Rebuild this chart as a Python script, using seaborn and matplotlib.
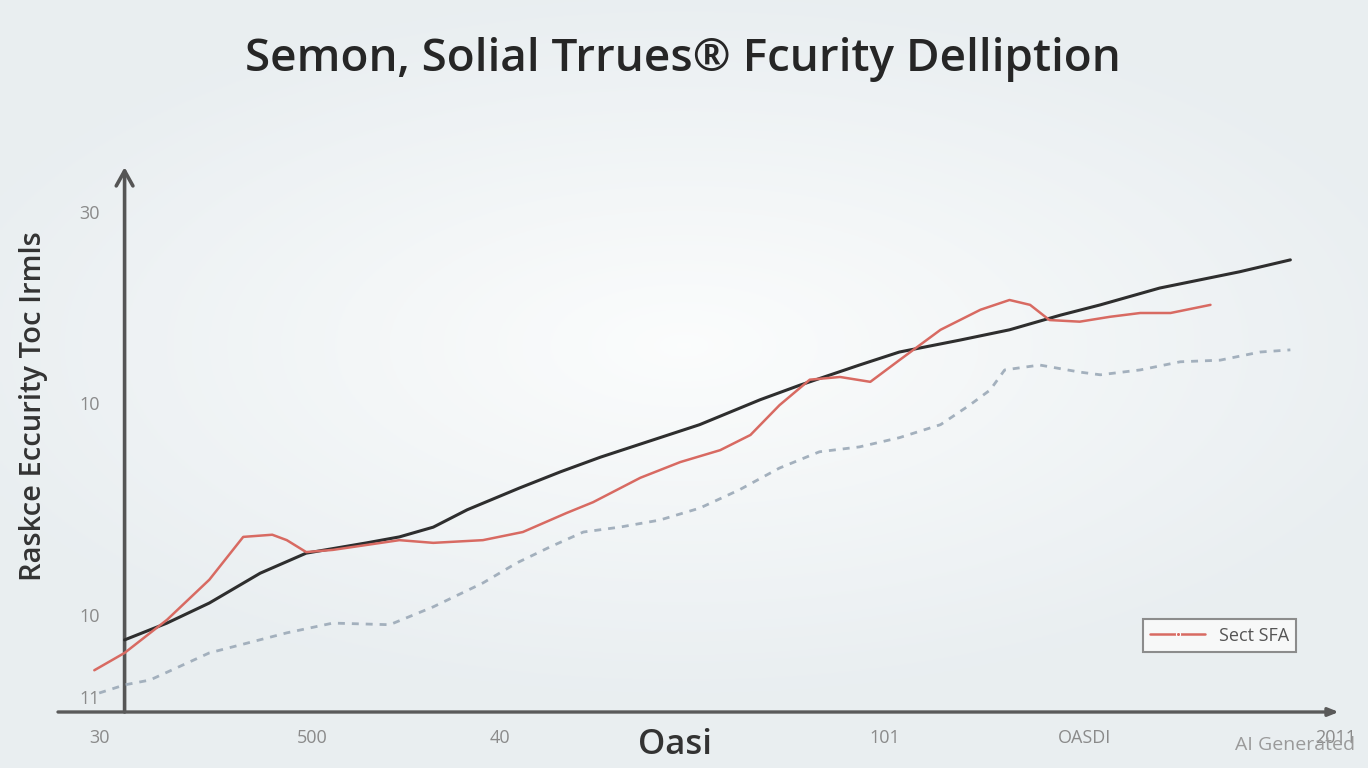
import numpy as np
import matplotlib
matplotlib.use("Agg")
import matplotlib.pyplot as plt
import seaborn as sns

# series values (x in chart units, y in chart units)
black_x = [0, 3.5, 7.0, 11.2, 15.0, 20.0, 22.7, 25.5, 28.3, 32.6, 36.0, 39.3, 47.5, 52.5,
           55.8, 60.7, 64.0, 69.0, 73.1, 77.3, 80.6, 85.5, 88.8, 92.1, 96.3]
black_y = [13.3, 16.4, 20.1, 25.6, 29.3, 31.2, 32.3, 34.1, 37.3, 41.3, 44.3, 47.0, 53.0, 57.6,
           60.3, 64.0, 66.4, 68.6, 70.5, 73.2, 75.1, 78.2, 79.7, 81.2, 83.4]

red_x = [-2.5, 0, 3.5, 7.0, 9.8, 12.2, 13.4, 15.0, 17.2, 22.7, 25.5, 29.6, 32.9, 36.5, 38.7,
         42.6, 45.9, 49.2, 51.7, 54.1, 56.6, 59.1, 61.6, 64.0, 67.4, 70.7, 73.1, 74.8, 76.4,
         78.9, 81.4, 83.9, 86.4, 89.7]
red_y = [7.7, 10.9, 17.0, 24.4, 32.3, 32.7, 31.7, 29.5, 29.9, 31.7, 31.2, 31.7, 33.2, 36.7, 38.7,
         43.2, 46.1, 48.3, 51.1, 56.6, 61.3, 61.8, 60.9, 64.9, 70.5, 74.2, 76.0, 75.1, 72.3,
         72.0, 72.9, 73.6, 73.6, 75.1]

dash_x = [-2.1, 0, 2.1, 7.0, 13.4, 17.2, 21.9, 25.5, 29.6, 32.4, 35.1, 37.9, 40.9, 44.2, 47.5,
          50.8, 54.1, 57.4, 60.7, 64.0, 67.4, 69.8, 71.5, 72.7, 75.6, 78.9, 80.6, 83.9, 87.2,
          90.5, 93.8, 96.3]
dash_y = [3.5, 5.0, 5.9, 10.9, 14.6, 16.4, 16.1, 19.4, 23.8, 27.5, 30.4, 33.2, 34.1, 35.4, 37.6,
          41.0, 45.0, 48.0, 48.9, 50.6, 53.0, 56.6, 59.4, 63.1, 64.0, 62.7, 62.2, 63.1, 64.6,
          64.9, 66.4, 66.8]

title = "Semon, Solial Trrues\u00ae Fcurity Delliption"
y_title = "Raskce Eccurity Toc Irmls"
x_title = "Oasi"
legend_label = "Sect SFA"
ytick_pos = [92.3, 57.0, 17.9, 2.8]
ytick_labels = ["30", "10", "10", "11"]
xtick_pos = [-2.1, 15.5, 31.0, 62.8, 79.3, 100.0]
xtick_labels = ["30", "500", "40", "101", "OASDI", "2011"]

sns.set_theme(style="white")
plt.rcParams["font.family"] = ["Open Sans", "DejaVu Sans"]

fig = plt.figure(figsize=(13.68, 7.68), dpi=100)

# soft radial background
bg = fig.add_axes([0, 0, 1, 1], zorder=-10)
gx, gy = np.meshgrid(np.linspace(-1, 1, 400), np.linspace(-1, 1, 300))
r = np.clip(np.sqrt((gx * 0.9) ** 2 + ((gy + 0.1) * 1.1) ** 2), 0, 1)
c_in = np.array([0.985, 0.99, 0.99])
c_out = np.array([0.915, 0.935, 0.945])
img = c_in[None, None, :] * (1 - r[..., None]) + c_out[None, None, :] * r[..., None]
bg.imshow(img, aspect="auto", extent=[0, 1, 0, 1])
bg.axis("off")

W, H = 1368, 768
ax = fig.add_axes([58 / W, (H - 712) / H, (1340 - 58) / W, (712 - 165) / H])
ax.patch.set_alpha(0)

sns.lineplot(x=dash_x, y=dash_y, ax=ax, color="#a3b0bd", linewidth=2.0,
             linestyle=(0, (2.5, 2.5)), zorder=2)
sns.lineplot(x=black_x, y=black_y, ax=ax, color="#2e2e2e", linewidth=2.2, zorder=3)
sns.lineplot(x=red_x, y=red_y, ax=ax, color="#d86a62", linewidth=1.8, zorder=4,
             label=legend_label)

ax.set_xlim(-5.5, 100.4)
ax.set_ylim(0, 100.9)

ax.spines["left"].set_position(("data", 0))
for s in ["top", "right", "bottom", "left"]:
    ax.spines[s].set_visible(False)

# axis arrows
ax.annotate("", xy=(0, 100.5), xytext=(0, 0),
            arrowprops=dict(arrowstyle="->,head_length=0.9,head_width=0.5",
                            color="#555555", lw=2.6, shrinkA=0, shrinkB=0), zorder=1)
ax.annotate("", xy=(100.3, 0), xytext=(-5.5, 0),
            arrowprops=dict(arrowstyle="-|>,head_length=0.5,head_width=0.2",
                            color="#5a5a5a", lw=2.4, shrinkA=0, shrinkB=0), zorder=1)

ax.set_yticks(ytick_pos)
ax.set_yticklabels(ytick_labels, color="#8a8a8a", fontsize=13)
ax.set_xticks(xtick_pos)
ax.set_xticklabels(xtick_labels, color="#8a8a8a", fontsize=13)
ax.tick_params(axis="y", length=0, pad=18)
ax.tick_params(axis="x", length=0, pad=12)

ax.set_ylabel(y_title, fontsize=21, color="#333333", fontweight="semibold")
ax.yaxis.set_label_coords(-0.008, 0.56)
ax.set_xlabel(x_title, fontsize=25, color="#333333", fontweight="semibold")
ax.xaxis.set_label_coords((675 - 58) / (1340 - 58), -0.03)

leg = ax.legend(loc="lower right", bbox_to_anchor=(0.966, 0.11), borderaxespad=0,
                frameon=True, fancybox=False, fontsize=13, handlelength=3.0,
                edgecolor="#8c8c8c", facecolor="#f7f8f8", framealpha=1)
leg.get_frame().set_linewidth(1.5)
for t in leg.get_texts():
    t.set_color("#555555")
for h in leg.legend_handles:
    h.set_marker("o")
    h.set_markersize(3)

fig.text(683 / W, 1 - 60 / H, title, ha="center", va="center", fontsize=33,
         color="#262626", fontweight="semibold")
fig.text(1355 / W, 1 - 745 / H, "AI Generated", ha="right", va="center",
         fontsize=14, color="#9a9a9a")

fig.savefig("out.png", dpi=100)
